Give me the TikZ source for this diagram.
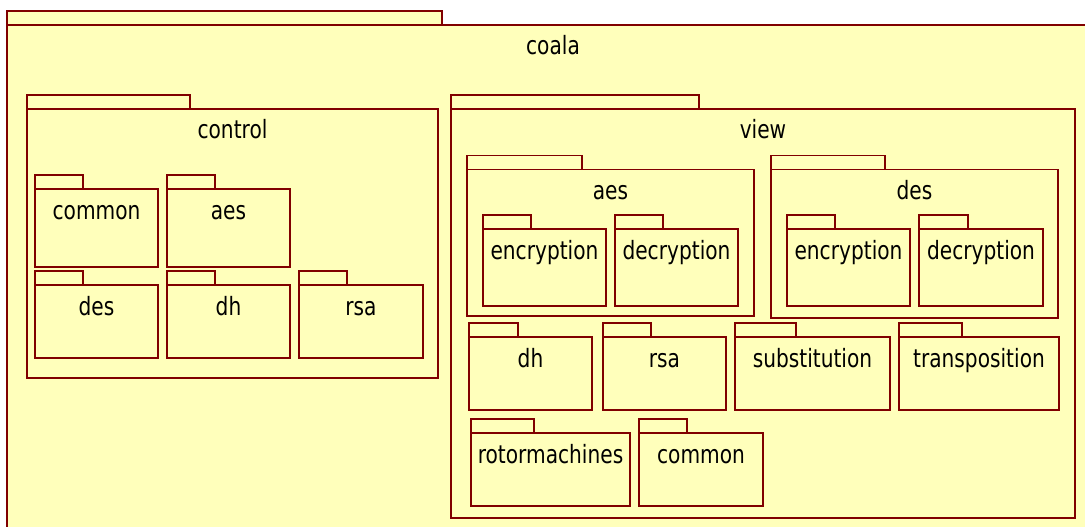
\documentclass[tikz,border=0pt]{standalone}
\usepackage{fontspec}
\setmainfont[FakeStretch=0.80]{DejaVu Sans}
\usetikzlibrary{fit}
\definecolor{pkgfill}{RGB}{255,255,187}
\definecolor{pkgdraw}{RGB}{128,0,0}
\tikzset{
  pkgline/.style={draw=pkgdraw, fill=pkgfill, line width=1.1pt},
  pkgbody/.style={pkgline, inner sep=0pt, outer sep=0pt, rectangle},
  pkglabel/.style={inner sep=0pt, anchor=base, text=black, font=\fontsize{25.2}{30}\selectfont}
}
% name, x-left, y-tab-top, x-tab-right, x-right, y-bottom, label
\newcommand\umlpkg[7]{%
  \draw[pkgline] (#2,#3) rectangle (#4,#3+14);
  \node[pkgbody, fit={(#2,#3+14) (#5,#6)}] (#1) {};
  \node[pkglabel] (#1-t) at ({(#2+#5)/2},{#3+44}) {#7};
}
\begin{document}
\begin{tikzpicture}[x=1pt,y=-1pt]
\useasboundingbox (0,0) rectangle (1085,527);
\clip (0,0) rectangle (1085,527);
\umlpkg{coala}{7}{11}{442}{1099}{545}{coala}
\umlpkg{control}{27}{95}{190}{438}{378}{control}
\umlpkg{ccommon}{35}{175}{83}{158}{267}{common}
\umlpkg{caes}{167}{175}{215}{290}{267}{aes}
\umlpkg{cdes}{35}{271}{83}{158}{358}{des}
\umlpkg{cdh}{167}{271}{215}{290}{358}{dh}
\umlpkg{crsa}{299}{271}{347}{423}{358}{rsa}
\umlpkg{view}{451}{95}{699}{1075}{518}{view}
\umlpkg{vaes}{467}{155.5}{582}{754}{316}{aes}
\umlpkg{vaesenc}{483}{215}{531}{606}{306}{encryption}
\umlpkg{vaesdec}{615}{215}{663}{738}{306}{decryption}
\umlpkg{vdes}{771}{155.5}{885}{1058}{318}{des}
\umlpkg{vdesenc}{787}{215}{835}{910}{306}{encryption}
\umlpkg{vdesdec}{919}{215}{968}{1043}{306}{decryption}
\umlpkg{vdh}{469}{323}{518}{592}{410}{dh}
\umlpkg{vrsa}{603}{323}{651}{726}{410}{rsa}
\umlpkg{vsub}{735}{323}{796}{890}{410}{substitution}
\umlpkg{vtrans}{899}{323}{962}{1059}{410}{transposition}
\umlpkg{vrotor}{471}{419}{534}{630}{506}{rotormachines}
\umlpkg{vcommon}{639}{419}{687}{763}{506}{common}
\end{tikzpicture}
\end{document}
